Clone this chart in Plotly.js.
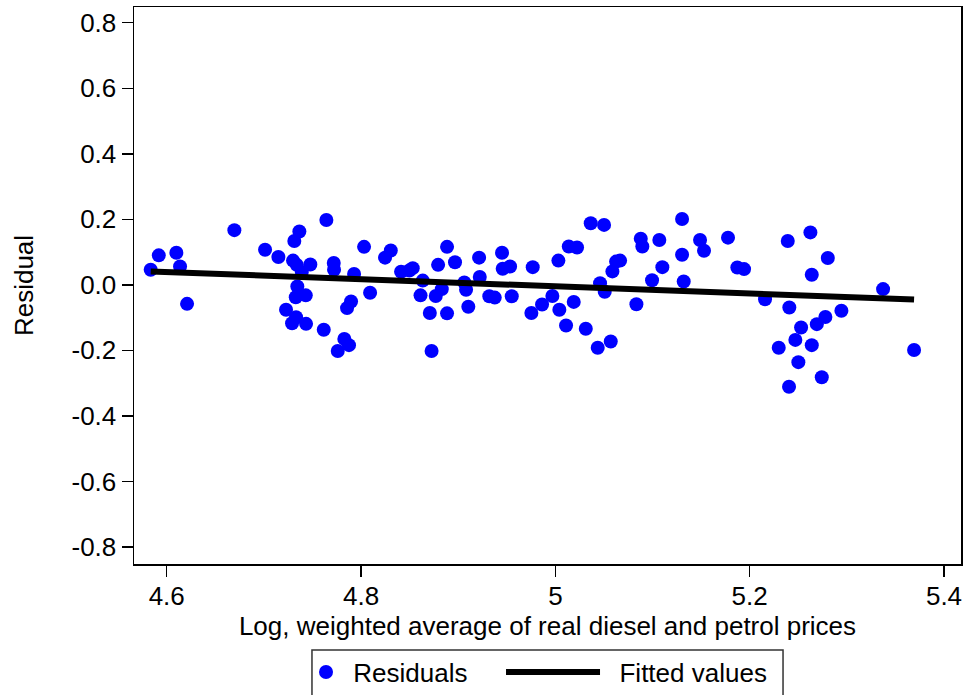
<!DOCTYPE html>
<html>
<head>
<meta charset="utf-8">
<script src="https://cdn.plot.ly/plotly-3.0.1.min.js"></script>
<style>
  html, body { margin: 0; padding: 0; background: #ffffff; }
  #chart { width: 964px; height: 695px; }
</style>
</head>
<body>
<div id="chart"></div>
<script>
// Log weighted average of real diesel and petrol prices (x) against residuals (y)
var priceLog = [
  4.5835, 4.5918, 4.6099, 4.6137, 4.6209, 4.6696, 4.7012, 4.7149, 4.7228, 4.7290,
  4.7331, 4.7434, 4.7300, 4.7313, 4.7365, 4.7338, 4.7390, 4.7344, 4.7328, 4.7431,
  4.7478, 4.7643, 4.7616, 4.7719, 4.7722, 4.7760, 4.7828, 4.7876, 4.7856, 4.7897,
  4.7928, 4.8031, 4.8093, 4.8247, 4.8306, 4.8412, 4.8497, 4.8532, 4.8635, 4.8612,
  4.8708, 4.8726, 4.8769, 4.8831, 4.8885, 4.8793, 4.8885, 4.8967, 4.9063, 4.9081,
  4.9104, 4.9215, 4.9222, 4.9320, 4.9376, 4.9451, 4.9458, 4.9534, 4.9551, 4.9767,
  4.9753, 4.9863, 4.9969, 5.0041, 5.0031, 5.0110, 5.0138, 5.0223, 5.0189, 5.0313,
  5.0364, 5.0501, 5.0460, 5.0508, 5.0436, 5.0570, 5.0587, 5.0625, 5.0666, 5.0834,
  5.0879, 5.0895, 5.0995, 5.1070, 5.1101, 5.1304, 5.1304, 5.1321, 5.1489, 5.1530,
  5.1777, 5.1873, 5.1942, 5.2158, 5.2392, 5.2408, 5.2299, 5.2405, 5.2470, 5.2501,
  5.2529, 5.2625, 5.2639, 5.2639, 5.2691, 5.2742, 5.2779, 5.2804, 5.2944, 5.3373,
  5.3692
];
var residual = [
  0.046, 0.090, 0.098, 0.056, -0.058, 0.167, 0.107, 0.085, -0.076, -0.117,
  -0.099, -0.119, 0.074, 0.134, 0.163, 0.061, 0.039, -0.005, -0.038, -0.032,
  0.062, 0.198, -0.137, 0.067, 0.046, -0.202, -0.165, -0.184, -0.071, -0.051,
  0.033, 0.116, -0.024, 0.083, 0.105, 0.040, 0.044, 0.051, 0.013, -0.032,
  -0.086, -0.202, -0.034, -0.013, -0.087, 0.061, 0.116, 0.069, 0.007, -0.015,
  -0.067, 0.083, 0.024, -0.035, -0.039, 0.098, 0.049, 0.056, -0.035, 0.054,
  -0.086, -0.060, -0.034, -0.076, 0.074, -0.124, 0.117, 0.114, -0.052, -0.134,
  0.188, 0.183, 0.005, -0.021, -0.192, -0.173, 0.041, 0.071, 0.074, -0.059,
  0.141, 0.117, 0.014, 0.137, 0.054, 0.201, 0.092, 0.010, 0.137, 0.104,
  0.144, 0.053, 0.048, -0.044, 0.134, -0.069, -0.192, -0.311, -0.168, -0.236,
  -0.130, 0.160, 0.031, -0.184, -0.120, -0.282, -0.098, 0.082, -0.079, -0.013,
  -0.199
];

// Linear fit over the observed price range
var fitX = [4.5835, 5.3692];
var fitY = [0.041, -0.045];

var xTickVals = [4.6, 4.8, 5.0, 5.2, 5.4];
var xTickText = ['4.6', '4.8', '5', '5.2', '5.4'];
var yTickVals = [0.8, 0.6, 0.4, 0.2, 0.0, -0.2, -0.4, -0.6, -0.8];
var yTickText = ['0.8', '0.6', '0.4', '0.2', '0.0', '-0.2', '-0.4', '-0.6', '-0.8'];

var FONT = 'Arial, "Liberation Sans", sans-serif';
var FS = 26;
var NBSP = '\u00a0';

var traces = [
  {
    x: priceLog, y: residual,
    type: 'scatter', mode: 'markers',
    name: NBSP + 'Residuals',
    marker: { color: '#0000ff', size: 14, line: { width: 0 } },
    legend: 'legend',
    hoverinfo: 'x+y'
  },
  {
    x: fitX, y: fitY,
    type: 'scatter', mode: 'lines',
    name: NBSP + NBSP + 'Fitted values',
    line: { color: '#000000', width: 6 },
    legend: 'legend2',
    hoverinfo: 'x+y'
  }
];

var axisCommon = {
  showgrid: false, zeroline: false,
  showline: true, linecolor: '#000000', linewidth: 1.5, mirror: true,
  ticks: 'outside', ticklen: 11, tickwidth: 1.5, tickcolor: '#000000',
  tickfont: { family: FONT, size: FS, color: '#000000' }
};

var layout = {
  width: 964, height: 695,
  margin: { l: 134, r: 3, t: 7, b: 131, autoexpand: false },
  paper_bgcolor: '#ffffff', plot_bgcolor: '#ffffff',
  font: { family: FONT, size: FS, color: '#000000' },
  xaxis: Object.assign({}, axisCommon, {
    range: [4.5663, 5.4175],
    ticklabelstandoff: -3,
    tickmode: 'array', tickvals: xTickVals, ticktext: xTickText,
    title: { text: 'Log, weighted average of real diesel and petrol prices',
             font: { family: FONT, size: FS, color: '#000000' }, standoff: 0 }
  }),
  yaxis: Object.assign({}, axisCommon, {
    range: [-0.852, 0.848],
    tickmode: 'array', tickvals: yTickVals, ticktext: yTickText,
    title: { text: 'Residual',
             font: { family: FONT, size: FS, color: '#000000' }, standoff: 30 }
  }),
  showlegend: true,
  legend: {
    orientation: 'h', x: 0.208, xanchor: 'left', y: -0.194, yanchor: 'middle',
    bgcolor: 'rgba(0,0,0,0)', borderwidth: 0,
    font: { family: FONT, size: FS, color: '#000000' }
  },
  legend2: {
    orientation: 'h', x: 0.4438, xanchor: 'left', y: -0.194, yanchor: 'middle',
    bgcolor: 'rgba(0,0,0,0)', borderwidth: 0, itemwidth: 94,
    font: { family: FONT, size: FS, color: '#000000' }
  },
  shapes: [
    { type: 'rect', xref: 'paper', yref: 'paper',
      x0: 0.2152, x1: 0.7848, y0: -0.1544, y1: -0.26,
      line: { color: '#333333', width: 1.5 }, fillcolor: 'rgba(0,0,0,0)', layer: 'below' }
  ]
};

Plotly.newPlot('chart', traces, layout, { displayModeBar: false, staticPlot: true });
</script>
</body>
</html>
